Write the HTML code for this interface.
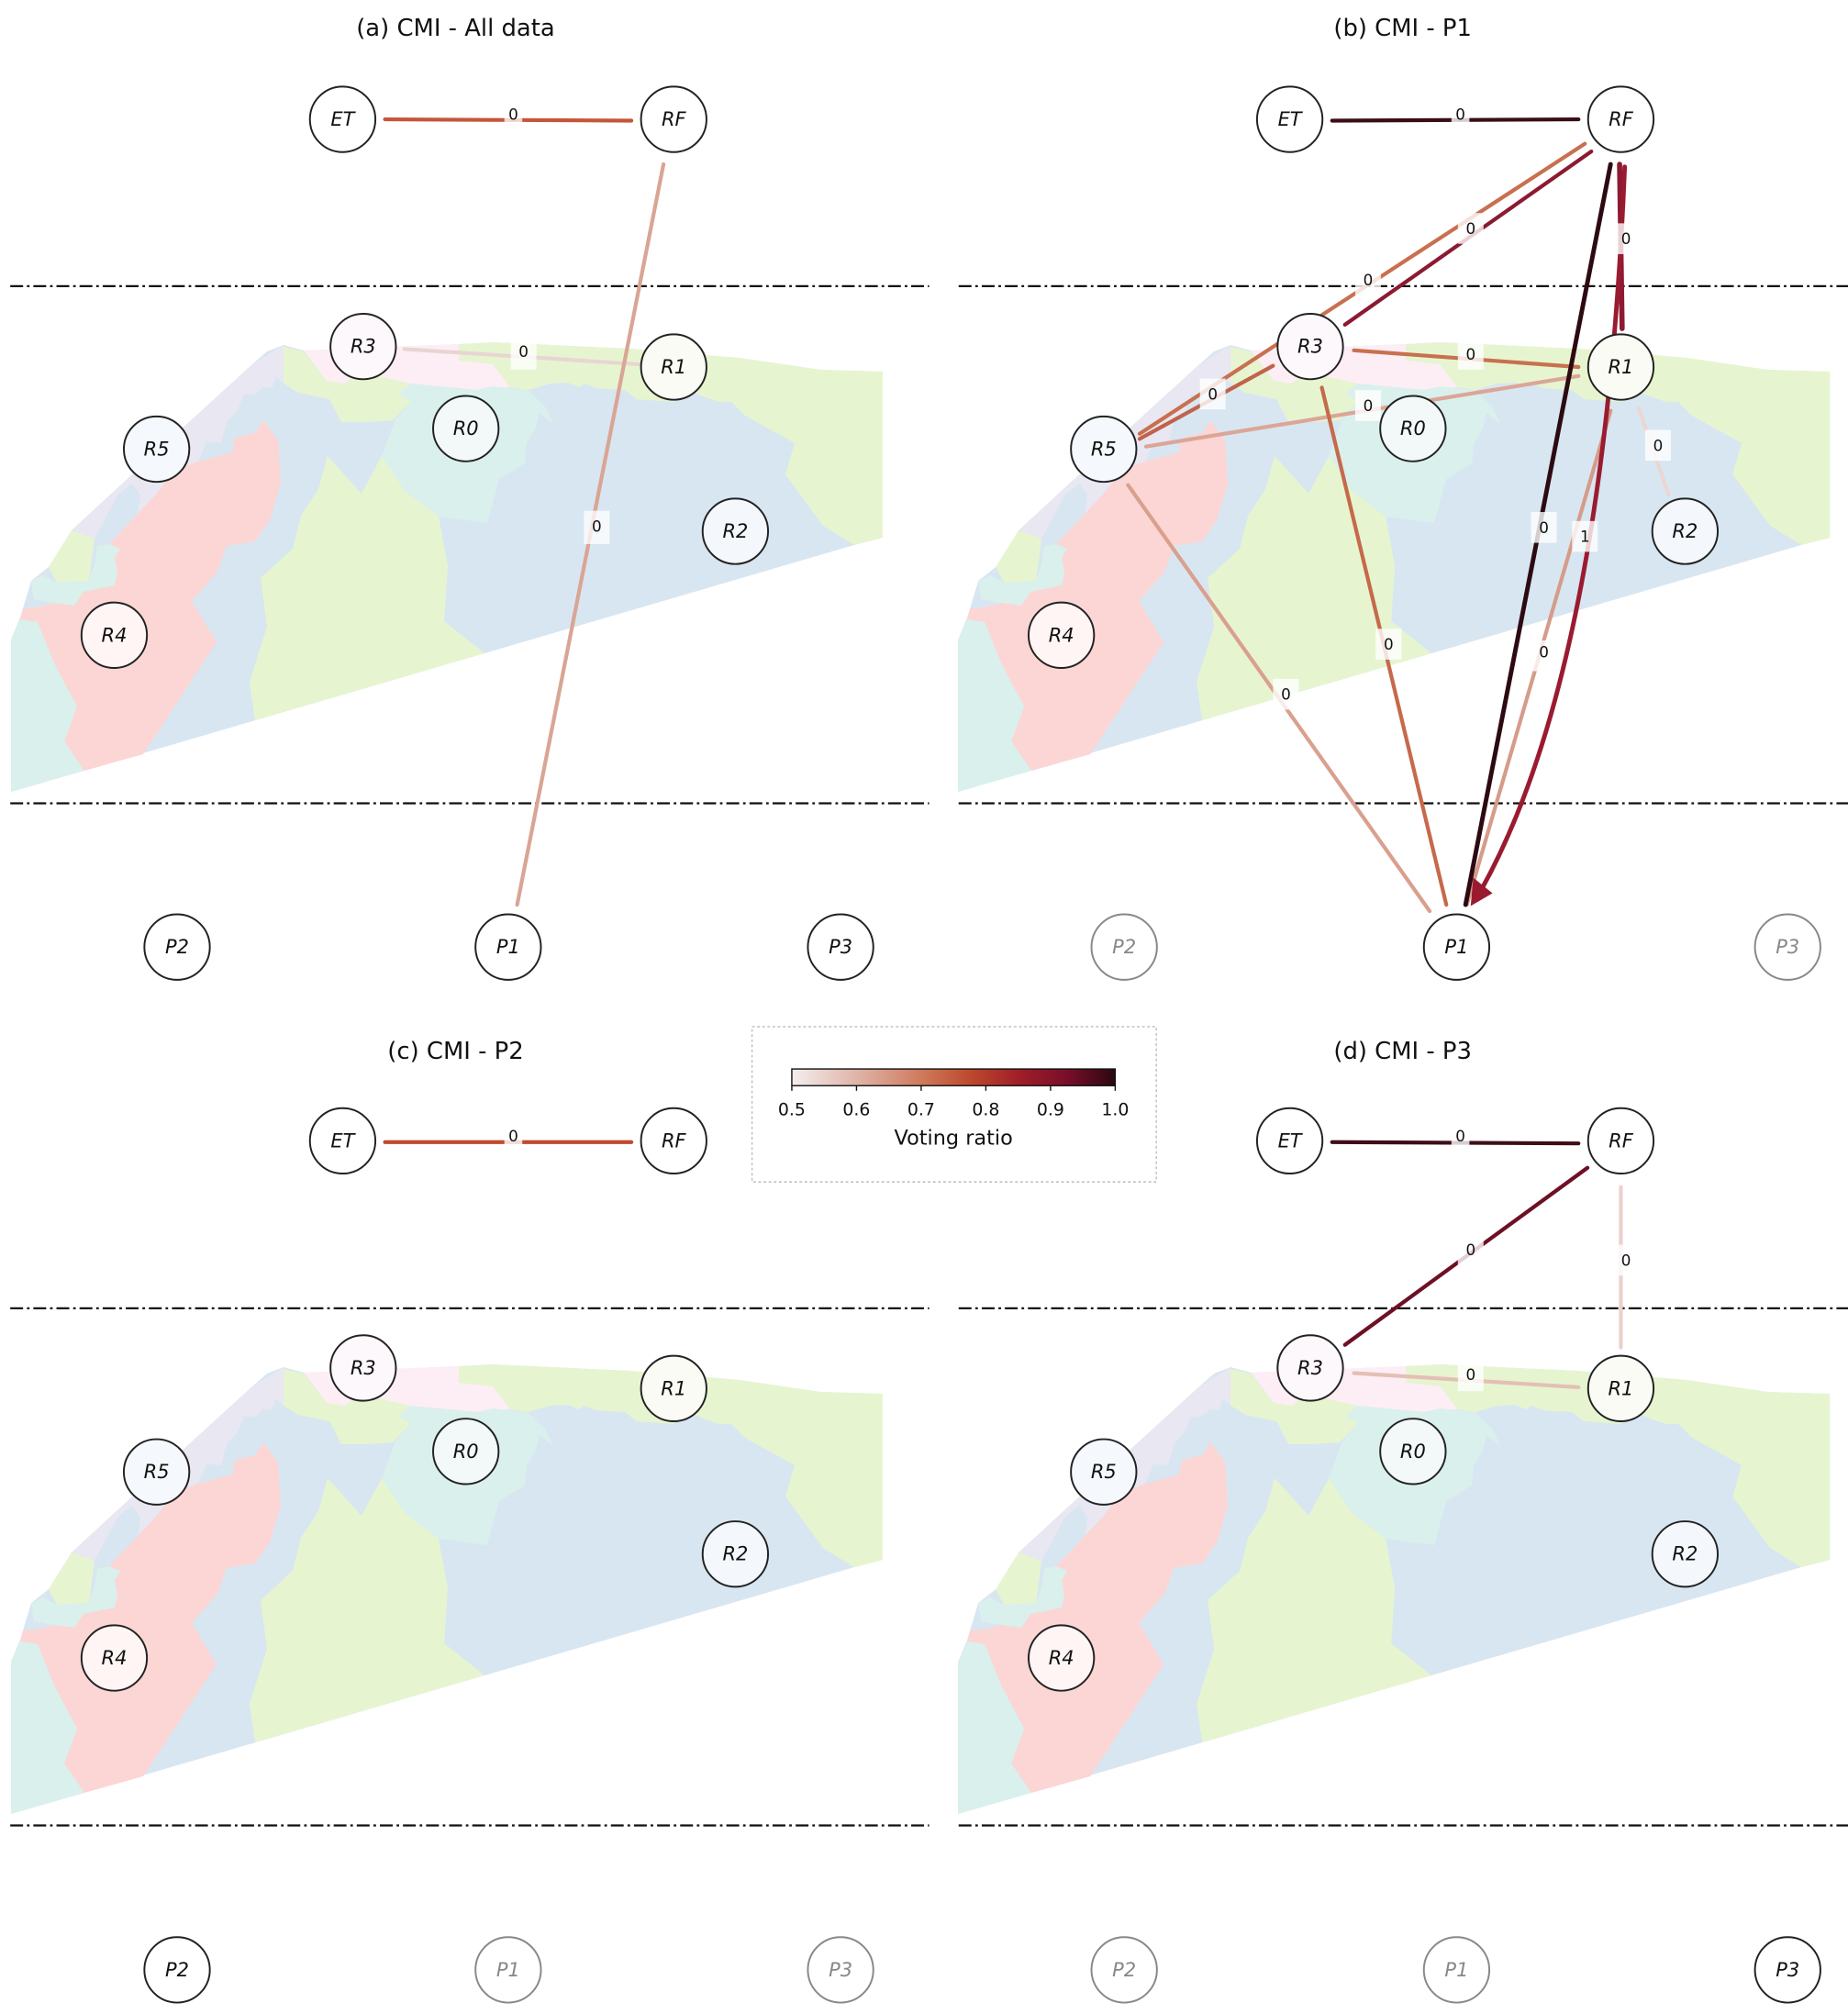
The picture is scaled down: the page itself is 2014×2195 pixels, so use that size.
<!DOCTYPE html>
<html><head><meta charset="utf-8"><style>
html,body{margin:0;padding:0;background:#fff;}
svg{display:block;}
text{font-family:"DejaVu Sans","Liberation Sans",sans-serif;}
.nl{font-style:italic;font-size:15px;text-anchor:middle;dominant-baseline:central;fill:#111;}
.el{font-size:12px;text-anchor:middle;dominant-baseline:central;fill:#111;}
.ti{font-size:18.5px;text-anchor:middle;fill:#111;}
</style></head><body>
<svg width="2014" height="2195" viewBox="0 0 1440 1569.4" xmlns="http://www.w3.org/2000/svg">
<defs>
<linearGradient id="cb" x1="0" x2="1" y1="0" y2="0">
<stop offset="0" stop-color="#f4eeee"/><stop offset="0.2" stop-color="#e0b4a8"/>
<stop offset="0.4" stop-color="#cf7a5c"/><stop offset="0.55" stop-color="#bd4a2c"/>
<stop offset="0.7" stop-color="#a01f28"/><stop offset="0.85" stop-color="#7a0e2a"/>
<stop offset="1" stop-color="#2a0810"/></linearGradient>
<g id="map" transform="scale(0.715)">
<polygon fill="#d8e6f1" points="12,863 931,594 962,586 962,405 894,403 806,390 687,380 537,373 500,375 331,382 309,376 291,383 275,397 206,460 78,578 53,618 34,633 22,673 12,697"/>
<polygon fill="#e6f5d0" points="500,375 537,373 687,380 806,390 894,403 962,405 962,586 931,594 897,573 856,517 866,483 812,453 797,438 784,438 766,432 750,425 734,438 694,435 681,425 650,423 637,418 631,422 619,417 600,418 575,425 556,422 537,397 500,393"/>
<polygon fill="#e6f5d0" points="305,377 331,383 356,415 375,418 391,407 412,410 447,418 434,430 448,437 428,458 400,460 372,460 359,435 325,428 309,418"/>
<polygon fill="#fdeef5" points="331,382 500,375 500,393 537,397 556,422 519,425 500,423 447,418 412,410 391,407 375,418 356,415"/>
<polygon fill="#daf0ec" points="447,418 500,423 519,425 537,421 575,425 594,443 603,462 588,450 584,467 574,483 572,505 544,522 531,570 478,563 441,535 416,497 431,457 448,437 434,430"/>
<polygon fill="#e6f5d0" points="284,630 319,598 328,562 347,533 357,497 394,538 416,497 441,535 478,563 488,617 484,677 528,712 278,785 272,743 291,683"/>
<polygon fill="#e8e7f2" points="275,397 309,376 309,418 300,410 297,423 287,422 278,430 266,430 259,447 247,460 241,483 225,482 216,503 191,512 169,540 150,560 153,540 144,527 128,540 116,563 103,587 78,578 206,460"/>
<polygon fill="#e6f5d0" points="78,578 103,587 97,633 62,635 53,618"/>
<polygon fill="#daf0ec" points="34,633 37,653 59,657 81,660 91,645 125,638 128,623 125,608 131,598 119,593 106,595 103,615 97,633 62,635 47,627"/>
<polygon fill="#fcd6d4" points="287,458 303,480 306,527 294,567 278,590 247,595 237,623 209,655 236,700 156,822 92,840 70,808 84,770 59,723 41,678 22,675 25,663 41,662 59,657 81,660 91,645 125,638 128,623 125,608 131,598 119,593 150,560 169,540 191,512 216,503 253,493 256,477 278,472"/>
<polygon fill="#daf0ec" points="12,697 22,675 41,678 59,723 84,770 70,808 92,840 12,863"/>
</g>
</defs>

<use href="#map"/>
<use href="#map" transform="translate(738,0)"/>
<use href="#map" transform="translate(0,796.5)"/>
<use href="#map" transform="translate(738,796.5)"/>

<g stroke="#111" stroke-width="1.6" stroke-dasharray="10,3,2,3" fill="none">
<line x1="8" y1="223" x2="724" y2="223"/><line x1="8" y1="626" x2="724" y2="626"/>
<line x1="747" y1="223" x2="1440" y2="223"/><line x1="747" y1="626" x2="1440" y2="626"/>
<line x1="8" y1="1019.5" x2="724" y2="1019.5"/><line x1="8" y1="1422.5" x2="724" y2="1422.5"/>
<line x1="747" y1="1019.5" x2="1440" y2="1019.5"/><line x1="747" y1="1422.5" x2="1440" y2="1422.5"/>
</g>

<text class="ti" x="355" y="28">(a) CMI - All data</text>
<text class="ti" x="1093" y="28">(b) CMI - P1</text>
<text class="ti" x="355" y="825">(c) CMI - P2</text>
<text class="ti" x="1093" y="825">(d) CMI - P3</text>

<g stroke-width="3" stroke-linecap="round" fill="none">
<line x1="300" y1="93" x2="492" y2="94" stroke="#c4563a"/>
<line x1="315" y1="272" x2="500" y2="284" stroke="#e8d5d3"/>
<line x1="517" y1="128" x2="403" y2="705" stroke="#d9a594"/>
</g>
<g fill="#fff" fill-opacity="0.75">
<rect x="393" y="81" width="14" height="16"/><rect x="398" y="266" width="20" height="22"/><rect x="455" y="398" width="20" height="26"/>
</g>
<text class="el" x="400" y="89">0</text><text class="el" x="408" y="274">0</text><text class="el" x="465" y="410">0</text>

<g stroke-width="3" stroke-linecap="round" fill="none">
<line x1="1038" y1="94" x2="1230" y2="93" stroke="#3a0d17"/>
<line x1="1235" y1="112" x2="888" y2="338" stroke="#c8704f"/>
<line x1="1240" y1="118" x2="1048" y2="253" stroke="#8b1a32"/>
<line x1="1262" y1="128" x2="1264" y2="256" stroke="#8b1a32" stroke-width="4"/>
<line x1="992" y1="285" x2="888" y2="342" stroke="#c0634a"/>
<line x1="1055" y1="273" x2="1230" y2="286" stroke="#c8704f"/>
<line x1="893" y1="348" x2="1230" y2="293" stroke="#dba697"/>
<line x1="1277" y1="318" x2="1300" y2="385" stroke="#ead7d3"/>
<line x1="1030" y1="302" x2="1127" y2="705" stroke="#c56a4b"/>
<line x1="879" y1="378" x2="1114" y2="710" stroke="#d9a08e"/>
<line x1="1255" y1="320" x2="1143" y2="705" stroke="#d59c8a"/>
<line x1="1255" y1="128" x2="1142" y2="705" stroke="#2d0a12" stroke-width="3.5"/>
<path d="M1266,130 Q1250,520 1155,692" stroke="#9a1b30" stroke-width="3.5"/>
</g>
<polygon points="1146,706 1148,684 1163,696" fill="#9a1b30"/>
<g fill="#fff" fill-opacity="0.8">
<rect x="1131" y="81" width="14" height="16"/><rect x="1056" y="206" width="20" height="24"/><rect x="1136" y="166" width="20" height="24"/>
<rect x="1259" y="174" width="17" height="24"/><rect x="935" y="295" width="20" height="24"/><rect x="1136" y="264" width="20" height="24"/>
<rect x="1056" y="304" width="20" height="24"/><rect x="1282" y="335" width="20" height="24"/><rect x="1072" y="490" width="20" height="24"/>
<rect x="992" y="529" width="20" height="24"/><rect x="1193" y="499" width="20" height="24"/><rect x="1193" y="399" width="20" height="24"/>
<rect x="1225" y="406" width="20" height="24"/>
</g>
<text class="el" x="1138" y="89">0</text><text class="el" x="1066" y="218">0</text><text class="el" x="1146" y="178">0</text>
<text class="el" x="1267" y="186">0</text><text class="el" x="945" y="307">0</text><text class="el" x="1146" y="276">0</text>
<text class="el" x="1066" y="316">0</text><text class="el" x="1292" y="347">0</text><text class="el" x="1082" y="502">0</text>
<text class="el" x="1002" y="541">0</text><text class="el" x="1203" y="508">0</text><text class="el" x="1203" y="411">0</text>
<text class="el" x="1235" y="418">1</text>

<line x1="300" y1="890" x2="492" y2="890" stroke="#c04a30" stroke-width="3" stroke-linecap="round"/>
<rect x="393" y="878" width="14" height="16" fill="#fff" fill-opacity="0.8"/>
<text class="el" x="400" y="885">0</text>

<g stroke-width="3" stroke-linecap="round" fill="none">
<line x1="1038" y1="890" x2="1230" y2="891" stroke="#3f0d18"/>
<line x1="1237" y1="910" x2="1048" y2="1048" stroke="#6e1025"/>
<line x1="1263" y1="925" x2="1263" y2="1050" stroke="#e9d2cc"/>
<line x1="1055" y1="1070" x2="1230" y2="1081" stroke="#e4bfb5"/>
</g>
<g fill="#fff" fill-opacity="0.8">
<rect x="1131" y="878" width="14" height="16"/><rect x="1136" y="962" width="20" height="24"/><rect x="1259" y="970" width="17" height="24"/><rect x="1136" y="1060" width="20" height="24"/>
</g>
<text class="el" x="1138" y="885">0</text><text class="el" x="1146" y="974">0</text><text class="el" x="1267" y="982">0</text><text class="el" x="1146" y="1071">0</text>

<g stroke="#222" stroke-width="1.4">
<circle cx="267" cy="93" r="25.5" fill="#fff"/><circle cx="525" cy="93" r="25.5" fill="#fff"/>
<circle cx="283" cy="270" r="25.5" fill="#fdf8fb"/><circle cx="525" cy="286" r="25.5" fill="#f9fbf4"/>
<circle cx="122" cy="350" r="25.5" fill="#f5f8fc"/><circle cx="363" cy="334" r="25.5" fill="#f3f9f8"/>
<circle cx="573" cy="414" r="25.5" fill="#f4f8fc"/><circle cx="89" cy="495" r="25.5" fill="#fff5f4"/>
<circle cx="138" cy="738" r="25.5" fill="#fff"/><circle cx="396" cy="738" r="25.5" fill="#fff"/><circle cx="655" cy="738" r="25.5" fill="#fff"/>
<circle cx="1005" cy="93" r="25.5" fill="#fff"/><circle cx="1263" cy="93" r="25.5" fill="#fff"/>
<circle cx="1021" cy="270" r="25.5" fill="#fdf8fb"/><circle cx="1263" cy="286" r="25.5" fill="#f9fbf4"/>
<circle cx="860" cy="350" r="25.5" fill="#f5f8fc"/><circle cx="1101" cy="334" r="25.5" fill="#f3f9f8"/>
<circle cx="1313" cy="414" r="25.5" fill="#f4f8fc"/><circle cx="827" cy="495" r="25.5" fill="#fff5f4"/>
<circle cx="1135" cy="738" r="25.5" fill="#fff"/>
<circle cx="267" cy="889" r="25.5" fill="#fff"/><circle cx="525" cy="889" r="25.5" fill="#fff"/>
<circle cx="283" cy="1066" r="25.5" fill="#fdf8fb"/><circle cx="525" cy="1082" r="25.5" fill="#f9fbf4"/>
<circle cx="122" cy="1147" r="25.5" fill="#f5f8fc"/><circle cx="363" cy="1131" r="25.5" fill="#f3f9f8"/>
<circle cx="573" cy="1211" r="25.5" fill="#f4f8fc"/><circle cx="89" cy="1292" r="25.5" fill="#fff5f4"/>
<circle cx="138" cy="1535" r="25.5" fill="#fff"/>
<circle cx="1005" cy="889" r="25.5" fill="#fff"/><circle cx="1263" cy="889" r="25.5" fill="#fff"/>
<circle cx="1021" cy="1066" r="25.5" fill="#fdf8fb"/><circle cx="1263" cy="1082" r="25.5" fill="#f9fbf4"/>
<circle cx="860" cy="1147" r="25.5" fill="#f5f8fc"/><circle cx="1101" cy="1131" r="25.5" fill="#f3f9f8"/>
<circle cx="1313" cy="1211" r="25.5" fill="#f4f8fc"/><circle cx="827" cy="1292" r="25.5" fill="#fff5f4"/>
<circle cx="1393" cy="1535" r="25.5" fill="#fff"/>
</g>
<g stroke="#888" stroke-width="1.4" fill="#fff">
<circle cx="876" cy="738" r="25.5"/><circle cx="1393" cy="738" r="25.5"/>
<circle cx="396" cy="1535" r="25.5"/><circle cx="655" cy="1535" r="25.5"/>
<circle cx="876" cy="1535" r="25.5"/><circle cx="1135" cy="1535" r="25.5"/>
</g>

<g>
<text class="nl" x="267" y="93">ET</text><text class="nl" x="525" y="93">RF</text><text class="nl" x="283" y="270">R3</text><text class="nl" x="525" y="286">R1</text>
<text class="nl" x="122" y="350">R5</text><text class="nl" x="363" y="334">R0</text><text class="nl" x="573" y="414">R2</text><text class="nl" x="89" y="495">R4</text>
<text class="nl" x="138" y="738">P2</text><text class="nl" x="396" y="738">P1</text><text class="nl" x="655" y="738">P3</text>

<text class="nl" x="1005" y="93">ET</text><text class="nl" x="1263" y="93">RF</text><text class="nl" x="1021" y="270">R3</text><text class="nl" x="1263" y="286">R1</text>
<text class="nl" x="860" y="350">R5</text><text class="nl" x="1101" y="334">R0</text><text class="nl" x="1313" y="414">R2</text><text class="nl" x="827" y="495">R4</text>
<text class="nl" x="876" y="738" style="fill:#888">P2</text><text class="nl" x="1135" y="738">P1</text><text class="nl" x="1393" y="738" style="fill:#888">P3</text>

<text class="nl" x="267" y="889">ET</text><text class="nl" x="525" y="889">RF</text><text class="nl" x="283" y="1066">R3</text><text class="nl" x="525" y="1082">R1</text>
<text class="nl" x="122" y="1147">R5</text><text class="nl" x="363" y="1131">R0</text><text class="nl" x="573" y="1211">R2</text><text class="nl" x="89" y="1292">R4</text>
<text class="nl" x="138" y="1535">P2</text><text class="nl" x="396" y="1535" style="fill:#888">P1</text><text class="nl" x="655" y="1535" style="fill:#888">P3</text>

<text class="nl" x="1005" y="889">ET</text><text class="nl" x="1263" y="889">RF</text><text class="nl" x="1021" y="1066">R3</text><text class="nl" x="1263" y="1082">R1</text>
<text class="nl" x="860" y="1147">R5</text><text class="nl" x="1101" y="1131">R0</text><text class="nl" x="1313" y="1211">R2</text><text class="nl" x="827" y="1292">R4</text>
<text class="nl" x="876" y="1535" style="fill:#888">P2</text><text class="nl" x="1135" y="1535" style="fill:#888">P1</text><text class="nl" x="1393" y="1535">P3</text>
</g>

<rect x="586" y="800" width="315" height="121" fill="#fff" stroke="#bbb" stroke-width="1" stroke-dasharray="2,2"/>
<rect x="617" y="833" width="252" height="13" fill="url(#cb)" stroke="#111" stroke-width="1"/>
<g stroke="#111" stroke-width="1">
<line x1="617" y1="846" x2="617" y2="850"/><line x1="667.4" y1="846" x2="667.4" y2="850"/><line x1="717.8" y1="846" x2="717.8" y2="850"/>
<line x1="768.2" y1="846" x2="768.2" y2="850"/><line x1="818.6" y1="846" x2="818.6" y2="850"/><line x1="869" y1="846" x2="869" y2="850"/>
</g>
<g font-size="13.5" text-anchor="middle" fill="#111">
<text x="617" y="869">0.5</text><text x="667.4" y="869">0.6</text><text x="717.8" y="869">0.7</text>
<text x="768.2" y="869">0.8</text><text x="818.6" y="869">0.9</text><text x="869" y="869">1.0</text>
<text x="743" y="892" font-size="16">Voting ratio</text>
</g>
</svg>
</body></html>
